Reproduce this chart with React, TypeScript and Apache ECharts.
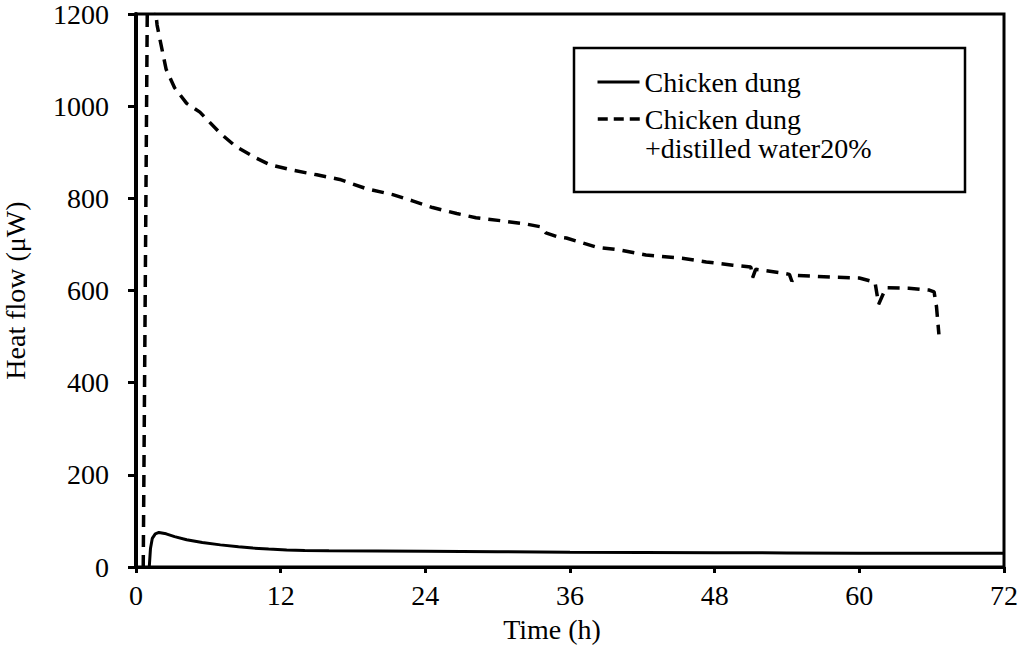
import React, { useEffect, useRef } from "react";
import * as echarts from "echarts";

const FONT = "Liberation Serif";

const seriesNames = ["Chicken dung", "Chicken dung +distilled water20%"];
const legendLines = ["Chicken dung", "+distilled water20%"];

// Chicken dung (solid)
const solidTimes = [1.1, 1.2, 1.35, 1.6, 1.9, 2.5, 3.2, 4.2, 5.5, 7.0, 8.5, 9.7, 11, 12.5, 14, 16, 20, 24, 30, 36, 42, 48, 54, 60, 66, 72];
const solidValues = [0, 40, 62, 72, 75, 72, 66, 59, 53, 48, 44, 41, 39, 37, 36, 35, 34.5, 34, 33, 32, 31.5, 31, 30.5, 30, 30, 30];

// Chicken dung + distilled water 20% (dashed)
const dashedTimes = [
  0.6, 0.95, 1.4, 1.75, 2.0, 2.5, 3.2, 4.2, 5.3, 7.0, 8.3, 10.0, 11.1, 13.0, 15.0, 16.9, 19.1, 21.3, 23.0, 24.6,
  26.6, 28.2, 30.4, 32.4, 33.6, 34.0, 35.0, 35.7, 38.2, 40.1, 42.3, 45.3, 47.3, 49.5, 51.0, 51.15, 51.4, 53.6,
  54.2, 54.4, 54.7, 57.7, 60.0, 61.3, 61.6, 62.2, 64.1, 65.8, 66.2, 66.4, 66.6,
];
const dashedValues = [
  0, 1260, 1260, 1176, 1143, 1080, 1040, 1006, 987, 941, 912, 887, 873, 861, 851, 841, 821, 808, 794, 780,
  767, 758, 751, 744, 738, 725, 716, 714, 694, 688, 677, 670, 662, 655, 651, 628, 646, 638,
  635, 620, 633, 629, 627, 618, 570, 606, 605, 601, 597, 565, 505,
];

const toPairs = (xs: number[], ys: number[]) => xs.map((x, i) => [x, ys[i]]);

export default function App() {
  const ref = useRef<HTMLDivElement>(null);

  useEffect(() => {
    if (!ref.current) return;
    const chart = echarts.init(ref.current, undefined, { renderer: "svg" });
    const textBase = { fontFamily: FONT, color: "#000" };
    const legendCommon = {
      orient: "vertical",
      left: 596,
      padding: 0,
      itemWidth: 42,
      itemHeight: 14,
      z: 10,
      itemStyle: { opacity: 0, borderWidth: 0 },
    };
    chart.setOption({
      animation: false,
      backgroundColor: "#fff",
      textStyle: { fontFamily: FONT, color: "#000" },
      grid: {
        left: 136,
        right: 20,
        top: 14,
        bottom: 84,
        show: true,
        borderColor: "#000",
        borderWidth: 3,
        backgroundColor: "transparent",
        containLabel: false,
        outerBoundsMode: "none",
      },
      xAxis: {
        type: "value",
        min: 0,
        max: 72,
        interval: 12,
        name: "Time (h)",
        nameLocation: "middle",
        nameGap: 48,
        nameMoveOverlap: false,
        nameTextStyle: { ...textBase, fontSize: 28, padding: [0, 36, 0, 0] },
        axisLine: { show: true, lineStyle: { color: "#000", width: 3 } },
        axisTick: { show: true, inside: false, length: 6, lineStyle: { color: "#000", width: 3 } },
        axisLabel: { ...textBase, fontSize: 28, margin: 14, formatter: (v: number) => String(v) },
        splitLine: { show: false },
      },
      yAxis: {
        type: "value",
        min: 0,
        max: 1200,
        interval: 200,
        name: "Heat flow (μW)",
        nameLocation: "middle",
        nameGap: 107,
        nameMoveOverlap: false,
        nameTextStyle: { ...textBase, fontSize: 28 },
        axisLine: { show: true, lineStyle: { color: "#000", width: 4 } },
        axisTick: { show: true, inside: false, length: 8, lineStyle: { color: "#000", width: 3 } },
        axisLabel: { ...textBase, fontSize: 28, margin: 27, formatter: (v: number) => String(v) },
        splitLine: { show: false },
      },
      graphic: [
        {
          type: "rect",
          z: 1,
          shape: { x: 574, y: 48, width: 391, height: 144 },
          style: { fill: "#fff", stroke: "#000", lineWidth: 2.5 },
        },
        {
          type: "text",
          z: 11,
          x: 645,
          y: 148,
          style: {
            text: legendLines[1],
            fontFamily: FONT,
            fontSize: 28,
            fill: "#000",
            align: "left",
            verticalAlign: "middle",
          },
        },
      ],
      legend: [
        {
          ...legendCommon,
          data: [seriesNames[0]],
          top: 67,
          lineStyle: { width: 3, type: "solid" },
          textStyle: { fontFamily: FONT, fontSize: 28, lineHeight: 30, color: "#000" },
        },
        {
          ...legendCommon,
          data: [seriesNames[1]],
          top: 104,
          formatter: () => legendLines[0],
          lineStyle: { width: 3.5, type: [10, 6] },
          textStyle: { fontFamily: FONT, fontSize: 28, lineHeight: 30, color: "#000" },
        },
      ],
      series: [
        {
          name: seriesNames[0],
          type: "line",
          data: toPairs(solidTimes, solidValues),
          showSymbol: false,
          symbol: "none",
          clip: true,
          lineStyle: { color: "#000", width: 3, type: "solid" },
          itemStyle: { color: "#000" },
          z: 3,
        },
        {
          name: seriesNames[1],
          type: "line",
          data: toPairs(dashedTimes, dashedValues),
          showSymbol: false,
          symbol: "none",
          clip: true,
          lineStyle: { color: "#000", width: 3.5, type: [12, 8] },
          itemStyle: { color: "#000" },
          z: 3,
        },
      ],
    });
    return () => chart.dispose();
  }, []);

  return (
    <div
      ref={ref}
      style={{ position: "fixed", left: 0, top: 0, width: 1024, height: 651, background: "#fff" }}
    />
  );
}
